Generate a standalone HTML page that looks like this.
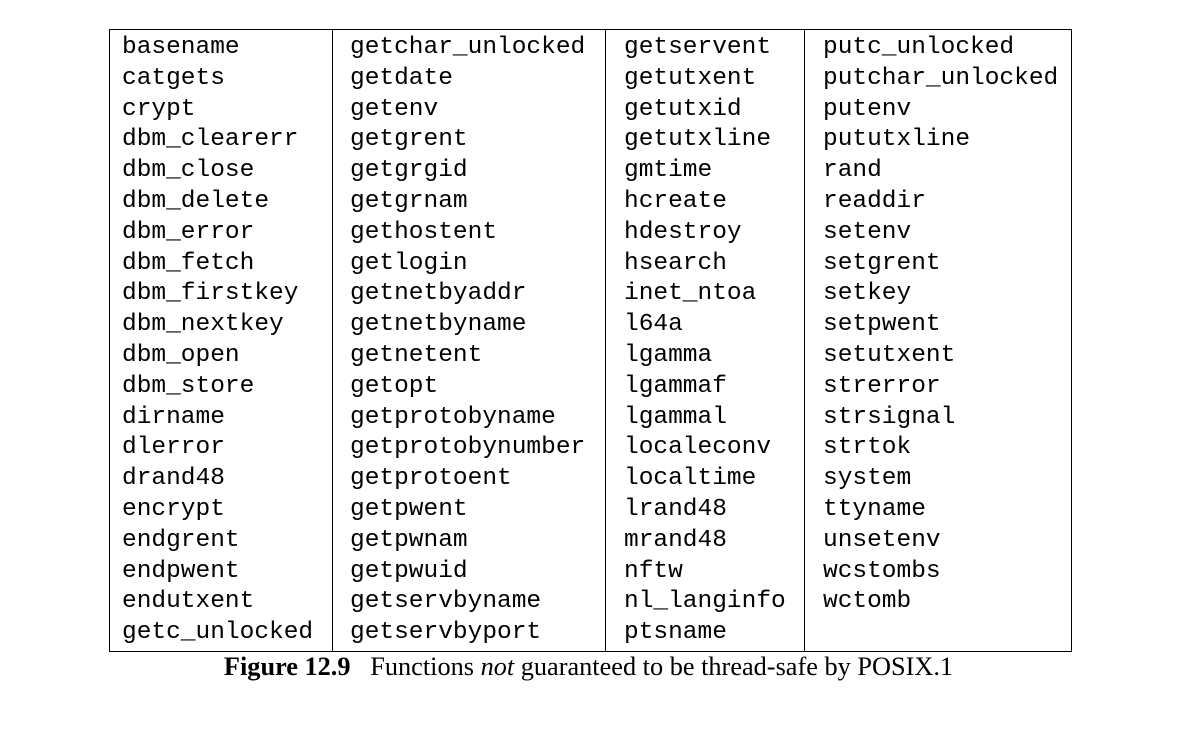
<!DOCTYPE html>
<html><head><meta charset="utf-8"><style>
body{margin:0;width:1177px;height:744px;background:#fff;position:relative;overflow:hidden}
.box{position:absolute;left:109px;top:29px;width:961px;height:621px;border:1px solid #000}
.v{position:absolute;top:29px;width:1px;height:622px;background:#000}
.c{position:absolute;top:33px;font-family:"Liberation Mono",monospace;font-size:24.5px;line-height:30.8px;color:#000;white-space:pre}
.cap{position:absolute;left:0;width:1177px;top:652px;text-align:center;font-family:"Liberation Serif",serif;font-size:26.3px;color:#000}
</style></head><body>
<div class="box"></div>
<div class="v" style="left:332px"></div>
<div class="v" style="left:605px"></div>
<div class="v" style="left:804px"></div>
<div class="c" style="left:122px">basename
catgets
crypt
dbm_clearerr
dbm_close
dbm_delete
dbm_error
dbm_fetch
dbm_firstkey
dbm_nextkey
dbm_open
dbm_store
dirname
dlerror
drand48
encrypt
endgrent
endpwent
endutxent
getc_unlocked</div>
<div class="c" style="left:350px">getchar_unlocked
getdate
getenv
getgrent
getgrgid
getgrnam
gethostent
getlogin
getnetbyaddr
getnetbyname
getnetent
getopt
getprotobyname
getprotobynumber
getprotoent
getpwent
getpwnam
getpwuid
getservbyname
getservbyport</div>
<div class="c" style="left:624px">getservent
getutxent
getutxid
getutxline
gmtime
hcreate
hdestroy
hsearch
inet_ntoa
l64a
lgamma
lgammaf
lgammal
localeconv
localtime
lrand48
mrand48
nftw
nl_langinfo
ptsname</div>
<div class="c" style="left:823px">putc_unlocked
putchar_unlocked
putenv
pututxline
rand
readdir
setenv
setgrent
setkey
setpwent
setutxent
strerror
strsignal
strtok
system
ttyname
unsetenv
wcstombs
wctomb</div>
<div class="cap"><b>Figure 12.9</b>&nbsp;&nbsp; Functions <i>not</i> guaranteed to be thread-safe by POSIX.1</div>
</body></html>
